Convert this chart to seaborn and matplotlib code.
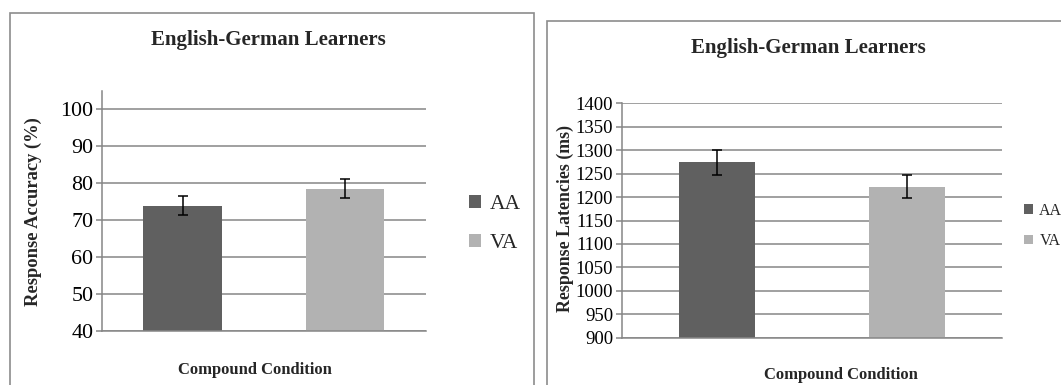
import matplotlib
matplotlib.use("Agg")
import matplotlib.pyplot as plt
import matplotlib.patches as mpatches
import numpy as np
import pandas as pd
import seaborn as sns

# Compound conditions and per-condition means with error-bar half widths
conditions = ["AA", "VA"]
accuracy = [73.9, 78.5]
accuracy_err = [2.6, 2.5]
latency = [1274, 1222]
latency_err = [27, 25]

acc_ticks = [40, 50, 60, 70, 80, 90, 100]
lat_ticks = [900, 950, 1000, 1050, 1100, 1150, 1200, 1250, 1300, 1350, 1400]

colors = {"AA": "#606060", "VA": "#b2b2b2"}
grid_c = "#868686"

sns.set_theme(style="white")
plt.rcParams["font.family"] = ["Liberation Serif", "DejaVu Serif"]

W, H = 1061, 385
fig = plt.figure(figsize=(W / 100, H / 100), dpi=100)


def fx(px):
    return px / W


def fy(py):
    return 1 - py / H


# Chart-area frames
fig.patches.append(mpatches.Rectangle((fx(10), -0.02), fx(534) - fx(10), fy(13) + 0.02,
                                      transform=fig.transFigure, fill=False,
                                      edgecolor="#8c8c8c", lw=1.2))
fig.patches.append(mpatches.Rectangle((fx(547), -0.02), 1.02 - fx(547), fy(21.5) + 0.02,
                                      transform=fig.transFigure, fill=False,
                                      edgecolor="#8c8c8c", lw=1.2))


def panel(rect, values, errs, ticks, ylim, width, tick_fs, ylabel, ylabel_fs, ylabel_x,
          ylabel_y, title_xy, xlabel_xy, legend_anchor, legend_fs, handle, textpad):
    ax = fig.add_axes(rect)
    df = pd.DataFrame({"condition": conditions, "value": values})
    sns.barplot(data=df, x="condition", y="value", hue="condition", palette=colors,
                width=width, errorbar=None, legend=True, ax=ax, saturation=1,
                edgecolor="none", linewidth=0)
    ax.errorbar(np.arange(len(conditions)), values, yerr=errs, fmt="none",
                ecolor="black", elinewidth=1.1, capsize=3.6, capthick=1.1, zorder=5)
    ax.set_ylim(*ylim)
    ax.set_xlim(-0.5, len(conditions) - 0.5)
    ax.set_yticks(ticks)
    ax.set_yticklabels([str(t) for t in ticks], fontsize=tick_fs)
    ax.set_xticks([])
    ax.set_xlabel("")
    ax.set_ylabel("")
    ax.set_axisbelow(True)
    ax.yaxis.grid(True, color=grid_c, lw=1.1)
    for s in ["top", "right"]:
        ax.spines[s].set_visible(False)
    for s in ["left", "bottom"]:
        ax.spines[s].set_color(grid_c)
        ax.spines[s].set_linewidth(1.1)
    ax.tick_params(axis="y", left=True, length=4, width=1.1, color=grid_c, pad=2,
                   labelcolor="black")
    handles, labels = ax.get_legend_handles_labels()
    ax.legend(handles, labels, loc="center left", bbox_to_anchor=legend_anchor,
              bbox_transform=fig.transFigure, frameon=False, fontsize=legend_fs,
              handlelength=handle, handleheight=handle, handletextpad=textpad,
              labelspacing=0.9, borderaxespad=0, borderpad=0)
    fig.text(fx(title_xy[0]), fy(title_xy[1]), "English-German Learners", ha="center",
             va="center", fontsize=15, fontweight="bold")
    fig.text(fx(xlabel_xy[0]), fy(xlabel_xy[1]), "Compound Condition", ha="center",
             va="center", fontsize=12, fontweight="bold")
    fig.text(fx(ylabel_x), fy(ylabel_y), ylabel, ha="center", va="center",
             rotation=90, fontsize=ylabel_fs, fontweight="bold")
    return ax


panel([fx(101.7), fy(330.7), fx(426) - fx(101.7), fy(90.7) - fy(330.7)],
      accuracy, accuracy_err, acc_ticks, (40, 105), 0.485, 15.8,
      "Response Accuracy (%)", 13.3, 33.5, 212, (268, 40), (255, 370),
      (fx(469), fy(224)), 15.5, 0.58, 0.4)

panel([fx(621.7), fy(337.7), fx(1001.7) - fx(621.7), fy(103.3) - fy(337.7)],
      latency, latency_err, lat_ticks, (900, 1400), 0.40, 13.5,
      "Response Latencies (ms)", 12.9, 565, 219, (808, 48), (841, 375),
      (fx(1024), fy(226)), 11.5, 0.56, 0.4)

fig.savefig("out.png", dpi=100)
